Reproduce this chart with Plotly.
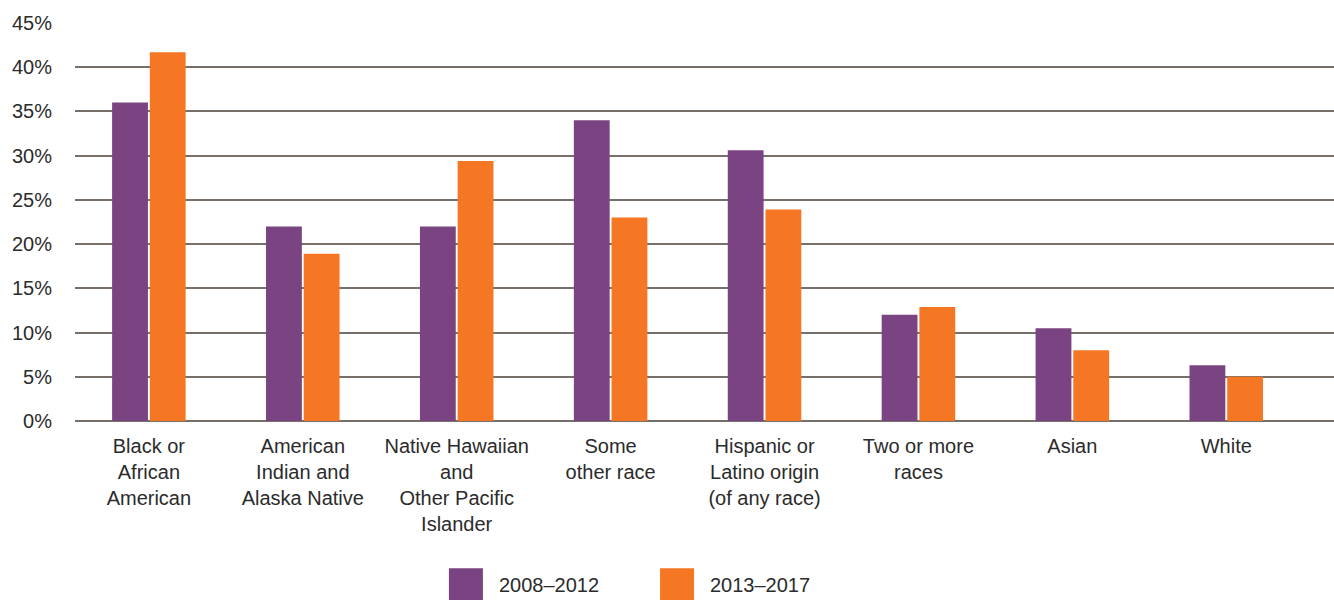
import plotly.graph_objects as go

categories = [
    "Black or<br>African<br>American",
    "American<br>Indian and<br>Alaska Native",
    "Native Hawaiian<br>and<br>Other Pacific<br>Islander",
    "Some<br>other race",
    "Hispanic or<br>Latino origin<br>(of any race)",
    "Two or more<br>races",
    "Asian",
    "White",
]
series_names = ["2008–2012", "2013–2017"]
values_2008_2012 = [36.0, 22.0, 22.0, 34.0, 30.6, 12.0, 10.5, 6.3]
values_2013_2017 = [41.7, 18.9, 29.4, 23.0, 23.9, 12.9, 8.0, 5.0]
colors = ["#7a4381", "#f57724"]
y_ticks = [0, 5, 10, 15, 20, 25, 30, 35, 40, 45]

FONT = "Liberation Sans"
FS = 20
TXT = "#2b2b2b"

fig = go.Figure()
for name, vals, col in zip(series_names, [values_2008_2012, values_2013_2017], colors):
    fig.add_trace(go.Bar(x=categories, y=vals, name=name, marker=dict(color=col, line=dict(width=0)),
                         showlegend=False))

# manual legend (large swatches)
legend_x = [0.297, 0.4647]
for i, (name, col) in enumerate(zip(series_names, colors)):
    x0 = legend_x[i]
    fig.add_shape(type="rect", xref="paper", yref="paper", x0=x0, x1=x0 + 0.027,
                  y0=-0.4505, y1=-0.370, fillcolor=col, line=dict(width=0))
    fig.add_annotation(xref="paper", yref="paper", x=x0 + 0.0382, y=-0.413, text=name,
                       showarrow=False, xanchor="left", yanchor="middle",
                       font=dict(family=FONT, size=FS, color=TXT))

fig.update_layout(
    width=1334, height=600,
    margin=dict(l=75, r=0, t=23, b=179),
    paper_bgcolor="white", plot_bgcolor="white",
    barmode="group", bargap=0.51, bargroupgap=0.05,
    font=dict(family=FONT, size=FS, color=TXT),
    xaxis=dict(range=[-0.48, 7.7], showgrid=False, showline=False, zeroline=False,
               tickfont=dict(family=FONT, size=FS, color=TXT), ticks="", ticklabelstandoff=11),
    yaxis=dict(range=[0, 45], tickvals=y_ticks, ticktext=[f"{v}%" for v in y_ticks],
               showgrid=True, gridcolor="#77706a", gridwidth=1.5, zeroline=True,
               zerolinecolor="#77706a", zerolinewidth=1.5, showline=False, ticks="",
               ticklabelstandoff=22, tickfont=dict(family=FONT, size=FS, color=TXT)),
)

fig.write_html("out.html")
